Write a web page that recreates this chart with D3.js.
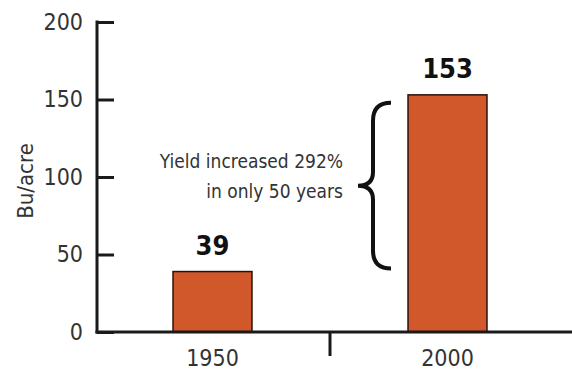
<!DOCTYPE html>
<html><head><meta charset="utf-8">
<script src="https://cdn.jsdelivr.net/npm/d3@7/dist/d3.min.js"></script>
<style>
body{margin:0;background:#fff;}
text{font-family:"Liberation Sans Narrow","DejaVu Sans Condensed",sans-serif;}
</style></head>
<body><svg id="c" width="572" height="370"></svg>
<script>
const categories = ["1950", "2000"];
const values = [39, 153];
const yTicks = [0, 50, 100, 150, 200];
const yLabel = "Bu/acre";
const noteLines = ["Yield increased 292%", "in only 50 years"];

const svg = d3.select("#c");
const y = d3.scaleLinear().domain([0, 200]).range([332, 22]);
const x = d3.scaleBand().domain(categories).range([95, 565]).paddingInner(0.664).paddingOuter(0.332);
const axisX0 = 97;

// y axis
const ya = svg.append("g").attr("transform", `translate(${axisX0},0)`)
  .call(d3.axisLeft(y).tickValues(yTicks).tickSize(-17).tickPadding(14).tickFormat(d3.format("d")));
ya.select(".domain").remove();
ya.selectAll(".tick line").attr("stroke", "#1a1a1a").attr("stroke-width", 3);
ya.selectAll(".tick text").attr("font-size", 23).attr("fill", "#333")
  .style("font-family", '"Liberation Sans Narrow","DejaVu Sans Condensed",sans-serif');
svg.append("line").attr("x1", axisX0).attr("x2", axisX0).attr("y1", y(200) - 1.5).attr("y2", y(0) + 1.5)
  .attr("stroke", "#1a1a1a").attr("stroke-width", 3);

// bars
svg.selectAll("rect.bar").data(categories).enter().append("rect")
  .attr("class", "bar")
  .attr("x", d => x(d))
  .attr("width", x.bandwidth())
  .attr("y", (d, i) => y(values[i]))
  .attr("height", (d, i) => y(0) - y(values[i]))
  .attr("fill", "#d0582b").attr("stroke", "#2a1208").attr("stroke-width", 1.5);

// x axis line
svg.append("line").attr("x1", axisX0 - 1.5).attr("x2", 572).attr("y1", y(0)).attr("y2", y(0))
  .attr("stroke", "#1a1a1a").attr("stroke-width", 3);
// middle divider tick
const midX = (x(categories[0]) + x.bandwidth() + x(categories[1])) / 2;
svg.append("line").attr("x1", midX).attr("x2", midX).attr("y1", y(0)).attr("y2", y(0) + 24)
  .attr("stroke", "#1a1a1a").attr("stroke-width", 3);

// x labels
svg.selectAll("text.xl").data(categories).enter().append("text")
  .attr("class", "xl")
  .attr("x", d => x(d) + x.bandwidth() / 2).attr("y", 366)
  .attr("text-anchor", "middle").attr("font-size", 23).attr("fill", "#333")
  .text(d => d);

// value labels
svg.selectAll("text.vl").data(categories).enter().append("text")
  .attr("class", "vl")
  .attr("x", d => x(d) + x.bandwidth() / 2).attr("y", (d, i) => y(values[i]) - 17)
  .attr("text-anchor", "middle").attr("font-size", 27).attr("font-weight", "bold").attr("fill", "#111")
  .text((d, i) => values[i]);

// y label
svg.append("text").attr("transform", `translate(33,${y(100) + 4}) rotate(-90)`)
  .attr("text-anchor", "middle").attr("font-size", 22).attr("fill", "#333").text(yLabel);

// brace
const bTop = y(values[1]) + 8, bBot = y(values[0]) - 3, bMid = (bTop + bBot) / 2;
const xr = 391, xm = 373, xp = 358;
const p = d3.path();
p.moveTo(xr, bTop);
p.quadraticCurveTo(xm, bTop, xm, bTop + 18);
p.lineTo(xm, bMid - 14);
p.quadraticCurveTo(xm, bMid, xp, bMid);
p.quadraticCurveTo(xm, bMid, xm, bMid + 14);
p.lineTo(xm, bBot - 18);
p.quadraticCurveTo(xm, bBot, xr, bBot);
svg.append("path").attr("d", p.toString()).attr("fill", "none").attr("stroke", "#111").attr("stroke-width", 4);

// note
svg.selectAll("text.note").data(noteLines).enter().append("text")
  .attr("class", "note")
  .attr("x", 343).attr("y", (d, i) => 168 + i * 30)
  .attr("text-anchor", "end").attr("font-size", 19).attr("fill", "#333")
  .text(d => d);
</script></body></html>
